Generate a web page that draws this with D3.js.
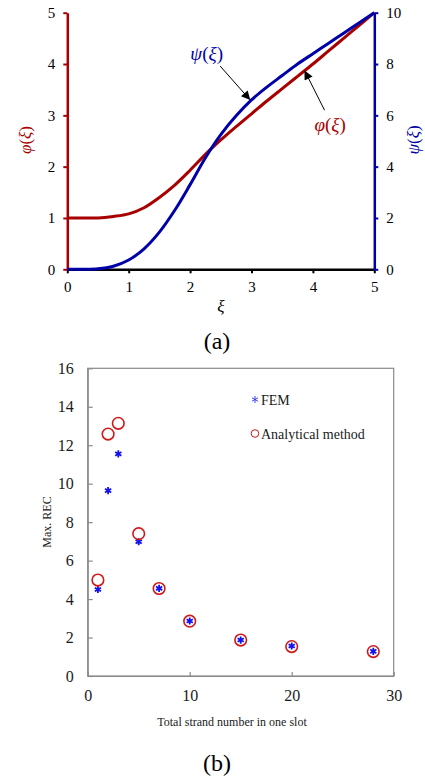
<!DOCTYPE html>
<html>
<head>
<meta charset="utf-8">
<script src="https://cdn.jsdelivr.net/npm/d3@7"></script>
<style>
  body { margin: 0; background: #fff; }
  svg text { font-family: "Liberation Serif", "Times New Roman", serif; }
</style>
</head>
<body>
<div id="chart"></div>
<script>
// (a) curves
var xi   = [0, 0.25, 0.5, 0.75, 1, 1.25, 1.5, 1.75, 2, 2.25, 2.5, 2.75, 3, 3.25, 3.5, 3.75, 4, 4.25, 4.5, 4.75, 5];
var phi  = [1, 1, 1, 1.03, 1.08, 1.2, 1.4, 1.64, 1.93, 2.24, 2.52, 2.78, 3.03, 3.28, 3.52, 3.76, 4, 4.25, 4.5, 4.75, 5];
var psi  = [0, 0, 0.02, 0.12, 0.36, 0.8, 1.45, 2.3, 3.3, 4.35, 5.25, 5.98, 6.6, 7.1, 7.55, 8, 8.4, 8.8, 9.2, 9.6, 10];
var xiTicks  = [0, 1, 2, 3, 4, 5];
var phiTicks = [0, 1, 2, 3, 4, 5];
var psiTicks = [0, 2, 4, 6, 8, 10];

// (b) scatter
var strands  = [1, 2, 3, 5, 7, 10, 15, 20, 28];
var femREC   = [4.5, 9.64, 11.55, 6.98, 4.56, 2.86, 1.87, 1.56, 1.28];
var anaREC   = [4.99, 12.58, 13.14, 7.4, 4.55, 2.85, 1.87, 1.53, 1.27];
var strandTicks = [0, 10, 20, 30];
var recTicks = [0, 2, 4, 6, 8, 10, 12, 14, 16];

var red = "#a80000", blue = "#0000a8";
var fmt = d3.format("d");

var svg = d3.select("#chart").append("svg")
    .attr("width", 425)
    .attr("height", 779);

// ---------- (a) ----------
var xA = d3.scaleLinear().domain([0, 5]).range([67.3, 374.3]);
var yPhi = d3.scaleLinear().domain([0, 5]).range([269.3, 12.7]);
var yPsi = d3.scaleLinear().domain([0, 10]).range([269.3, 12.7]);

var gA = svg.append("g");

var xAxisA = gA.append("g")
    .attr("transform", "translate(0," + yPhi(0) + ")")
    .call(d3.axisBottom(xA).tickValues(xiTicks).tickFormat(fmt).tickSize(4).tickSizeOuter(0).tickPadding(8));
xAxisA.select(".domain").attr("stroke", "#000").attr("stroke-width", 2.5);
xAxisA.selectAll(".tick line").attr("stroke", "#000").attr("stroke-width", 2);

var yAxisL = gA.append("g")
    .attr("transform", "translate(" + xA(0) + ",0)")
    .call(d3.axisLeft(yPhi).tickValues(phiTicks).tickFormat(fmt).tickSize(4).tickSizeOuter(0).tickPadding(8));
yAxisL.select(".domain").attr("stroke", red).attr("stroke-width", 2.5);
yAxisL.selectAll(".tick line").attr("stroke", red).attr("stroke-width", 2);

var yAxisR = gA.append("g")
    .attr("transform", "translate(" + xA(5) + ",0)")
    .call(d3.axisRight(yPsi).tickValues(psiTicks).tickFormat(fmt).tickSize(4).tickSizeOuter(0).tickPadding(8));
yAxisR.select(".domain").attr("stroke", blue).attr("stroke-width", 2.5);
yAxisR.selectAll(".tick line").attr("stroke", blue).attr("stroke-width", 2);

gA.selectAll(".tick text").attr("font-size", 15).attr("fill", "#000")
    .attr("font-family", "Liberation Serif");

var phiLine = d3.line()
    .x(function(d, i) { return xA(xi[i]); })
    .y(function(d) { return yPhi(d); })
    .curve(d3.curveCatmullRom);
var psiLine = d3.line()
    .x(function(d, i) { return xA(xi[i]); })
    .y(function(d) { return yPsi(d); })
    .curve(d3.curveCatmullRom);

gA.append("path").datum(phi)
    .attr("d", phiLine).attr("fill", "none")
    .attr("stroke", red).attr("stroke-width", 3);
gA.append("path").datum(psi)
    .attr("d", psiLine).attr("fill", "none")
    .attr("stroke", blue).attr("stroke-width", 3);

// arrows
svg.append("defs").append("marker")
    .attr("id", "arrow")
    .attr("viewBox", "0 0 10 10")
    .attr("refX", 9).attr("refY", 5)
    .attr("markerWidth", 10).attr("markerHeight", 9)
    .attr("markerUnits", "userSpaceOnUse")
    .attr("orient", "auto")
    .append("path").attr("d", "M0,0L10,5L0,10Z").attr("fill", "#000");

var arrows = [
    { from: [2.49, 3.96], to: [2.97, 3.31] },
    { from: [4.19, 3.1], to: [3.87, 3.86] }
];
gA.selectAll(".arr").data(arrows).enter().append("line")
    .attr("x1", function(d) { return xA(d.from[0]); })
    .attr("y1", function(d) { return yPhi(d.from[1]); })
    .attr("x2", function(d) { return xA(d.to[0]); })
    .attr("y2", function(d) { return yPhi(d.to[1]); })
    .attr("stroke", "#000").attr("stroke-width", 1)
    .attr("marker-end", "url(#arrow)");

gA.append("text")
    .attr("x", xA(2.27)).attr("y", yPhi(4.08))
    .attr("text-anchor", "middle").attr("font-size", 19).attr("fill", blue)
    .html('<tspan font-style="italic">ψ</tspan>(<tspan font-style="italic">ξ</tspan>)');
gA.append("text")
    .attr("x", xA(4.28)).attr("y", yPhi(2.7))
    .attr("text-anchor", "middle").attr("font-size", 19).attr("fill", red)
    .html('<tspan font-style="italic">φ</tspan>(<tspan font-style="italic">ξ</tspan>)');

gA.append("text")
    .attr("transform", "translate(31,140) rotate(-90)")
    .attr("text-anchor", "middle").attr("font-size", 17).attr("fill", red)
    .html('<tspan font-style="italic">φ</tspan>(<tspan font-style="italic">ξ</tspan>)');
gA.append("text")
    .attr("transform", "translate(419,140) rotate(-90)")
    .attr("text-anchor", "middle").attr("font-size", 17).attr("fill", blue)
    .html('<tspan font-style="italic">ψ</tspan>(<tspan font-style="italic">ξ</tspan>)');

gA.append("text")
    .attr("x", 221).attr("y", 312)
    .attr("text-anchor", "middle").attr("font-size", 17).attr("font-style", "italic")
    .text("ξ");
gA.append("text")
    .attr("x", 217).attr("y", 349)
    .attr("text-anchor", "middle").attr("font-size", 24)
    .text("(a)");

// ---------- (b) ----------
var xB = d3.scaleLinear().domain([0, 30]).range([87.7, 393.7]);
var yB = d3.scaleLinear().domain([0, 16]).range([676, 368.3]);

var gB = svg.append("g");
var frame = "#8a8a8a";

gB.append("rect")
    .attr("x", xB(0)).attr("y", yB(16))
    .attr("width", xB(30) - xB(0)).attr("height", yB(0) - yB(16))
    .attr("fill", "none").attr("stroke", frame).attr("stroke-width", 1.2);

var xAxisB = gB.append("g")
    .attr("transform", "translate(0," + yB(0) + ")")
    .call(d3.axisBottom(xB).tickValues(strandTicks).tickFormat(fmt).tickSize(-4).tickSizeOuter(0).tickPadding(14));
var yAxisB = gB.append("g")
    .attr("transform", "translate(" + xB(0) + ",0)")
    .call(d3.axisLeft(yB).tickValues(recTicks).tickFormat(fmt).tickSize(-5).tickSizeOuter(0).tickPadding(14));
gB.selectAll(".domain").attr("stroke", frame).attr("stroke-width", 1.2);
gB.selectAll(".tick line").attr("stroke", frame).attr("stroke-width", 1.2);
gB.selectAll(".tick text").attr("font-size", 16).attr("fill", "#1a1a1a")
    .attr("font-family", "Liberation Serif");

// six-armed asterisk, one arm vertical
function asterisk(r) {
    var p = d3.path();
    [90, 30, -30].forEach(function(a) {
        var t = a * Math.PI / 180, dx = r * Math.cos(t), dy = r * Math.sin(t);
        p.moveTo(-dx, -dy); p.lineTo(dx, dy);
    });
    return p.toString();
}

gB.selectAll(".fem").data(femREC).enter().append("path")
    .attr("transform", function(d, i) { return "translate(" + xB(strands[i]) + "," + yB(d) + ")"; })
    .attr("d", asterisk(3.6))
    .attr("fill", "none").attr("stroke", "#1010f0").attr("stroke-width", 1.8);

gB.selectAll(".ana").data(anaREC).enter().append("circle")
    .attr("cx", function(d, i) { return xB(strands[i]); })
    .attr("cy", function(d) { return yB(d); })
    .attr("r", 5.8)
    .attr("fill", "none").attr("stroke", "#d01818").attr("stroke-width", 1.6);

// legend
gB.append("path")
    .attr("transform", "translate(255,399.5)")
    .attr("d", asterisk(3.5))
    .attr("fill", "none").attr("stroke", "#3030f0").attr("stroke-width", 0.9);
gB.append("text").attr("x", 261).attr("y", 404.5)
    .attr("font-size", 14).attr("fill", "#1a1a1a").text("FEM");
gB.append("circle").attr("cx", 255).attr("cy", 433.5).attr("r", 3.8)
    .attr("fill", "none").attr("stroke", "#d01818").attr("stroke-width", 1);
gB.append("text").attr("x", 261).attr("y", 438.5)
    .attr("font-size", 14).attr("fill", "#1a1a1a").text("Analytical method");

gB.append("text")
    .attr("x", 232).attr("y", 726)
    .attr("text-anchor", "middle").attr("font-size", 12).attr("fill", "#1a1a1a")
    .text("Total strand number in one slot");
gB.append("text")
    .attr("transform", "translate(51,522) rotate(-90)")
    .attr("text-anchor", "middle").attr("font-size", 12).attr("fill", "#1a1a1a")
    .text("Max. REC");
gB.append("text")
    .attr("x", 217).attr("y", 771)
    .attr("text-anchor", "middle").attr("font-size", 24)
    .text("(b)");
</script>
</body>
</html>
